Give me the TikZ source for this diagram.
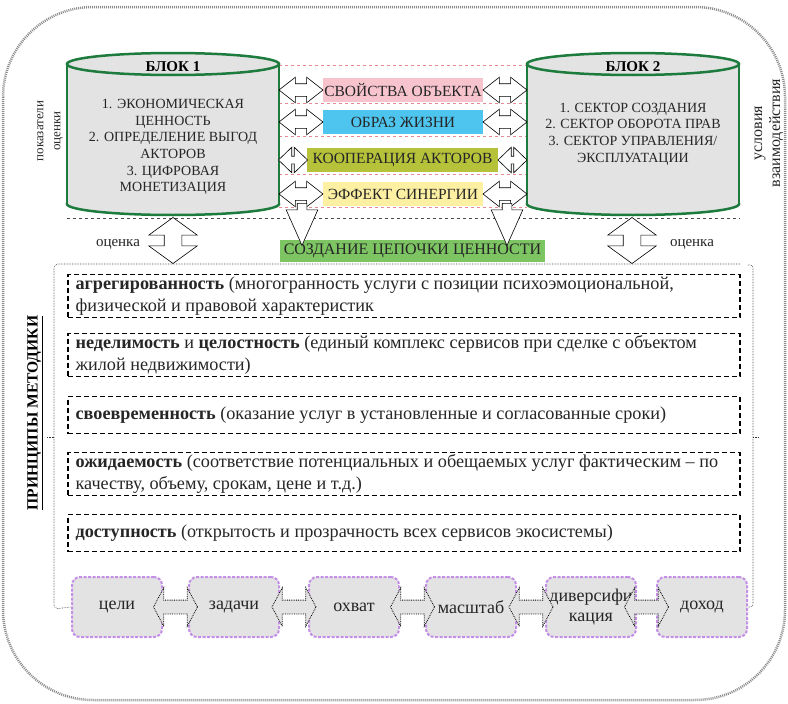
\documentclass[tikz,border=0pt]{standalone}
\usepackage{fontspec}
\setmainfont{Liberation Serif}
\usetikzlibrary{shapes.arrows,calc}
\definecolor{cylgreen}{HTML}{1E7B3E}
\definecolor{cylfill}{HTML}{E3E3E3}
\definecolor{pinkbg}{HTML}{F7C4CE}
\definecolor{bluebg}{HTML}{4DC5EF}
\definecolor{olivebg}{HTML}{B5C23A}
\definecolor{yellowbg}{HTML}{FDF0A3}
\definecolor{greenbg}{HTML}{7DC462}
\definecolor{purp}{HTML}{C48FE6}
\definecolor{boxgray}{HTML}{E3E3E3}
\definecolor{txt}{HTML}{262626}
\definecolor{pinkline}{HTML}{E58A95}
\newcommand\drawcyl[4]{%
  \draw[cylline,fill=cylfill] (#1,#4) ellipse [x radius=#2pt, y radius=11pt];
  \fill[cylfill] (#1-#2,#3) rectangle (#1+#2,#4);
  \draw[cylline] (#1-#2,#3) -- (#1-#2,#4) (#1+#2,#3) -- (#1+#2,#4);
  \draw[cylline,fill=cylfill] (#1,#3) ellipse [x radius=#2pt, y radius=11pt];
}
\tikzset{
  cylline/.style={draw=cylgreen, line width=2.5pt},
  cylarea/.style={minimum width=212pt, minimum height=162pt, inner sep=0pt},
  cyltext/.style={font=\fontsize{14}{16.6}\selectfont, text=txt, align=center, inner sep=0pt},
  cyltitle/.style={font=\fontsize{15}{17}\selectfont\bfseries, text=black, inner sep=0pt},
  lbl/.style={font=\fontsize{15.5}{17}\selectfont, text=txt, minimum height=24pt, inner sep=0pt},
  rowarrow/.style={double arrow, draw=black, fill=white, line width=0.6pt, inner xsep=0pt, inner ysep=6pt,
    minimum width=25pt, double arrow head extend=6.5pt, minimum height=44pt, double arrow tip angle=76},
  smallrowarrow/.style={rowarrow, inner ysep=3.5pt, minimum width=25pt, double arrow head extend=9pt,
    minimum height=29pt, double arrow tip angle=88},
  downarrow/.style={single arrow, draw=black, fill=white, line width=0.6pt, inner xsep=0pt, inner ysep=4.5pt,
    minimum width=31pt, single arrow head extend=11pt, minimum height=42pt, single arrow tip angle=48, rotate=-90},
  vdarrow/.style={double arrow, draw=black, fill=white, line width=0.6pt, inner xsep=0pt, inner ysep=8.5pt,
    minimum width=48pt, double arrow head extend=15.5pt, minimum height=46pt, double arrow tip angle=108, rotate=90},
  sidelabel/.style={font=\fontsize{13}{17}\selectfont, text=txt, align=center, inner sep=0pt},
  pbox/.style={draw=black, line width=1.2pt, dash pattern=on 5pt off 3pt, minimum width=672pt, inner sep=0pt},
  ptext/.style={anchor=west, align=left, inner sep=0pt, font=\fontsize{18.2}{21.5}\selectfont, text=txt},
  bbox/.style={draw=purp, line width=2pt, dash pattern=on 3pt off 1.5pt, fill=boxgray, rounded corners=8pt,
    minimum width=90pt, minimum height=60pt, inner sep=0pt, align=center, font=\fontsize{18}{20}\selectfont, text=txt},
  barrow/.style={double arrow, fill=boxgray, draw=black, densely dotted, line width=0.8pt, inner xsep=0pt, inner ysep=6.5pt,
    minimum width=38pt, double arrow head extend=12.5pt, minimum height=44pt, double arrow tip angle=124},
  outerframe/.style={draw=black!45, line width=2.5pt, dash pattern=on 1pt off 1pt, rounded corners=90pt},
  frameline/.style={draw=gray!40!black, densely dotted, line width=0.6pt},
}
\begin{document}
\begin{tikzpicture}[x=1pt,y=-1pt]
\useasboundingbox (0,0) rectangle (788,704);
% outer frame
\draw[outerframe] (3,7) rectangle (785,700);

% pink dashed guide lines
\foreach \yy in {65,103,136,174,207}
  \draw[pinkline, dashed, line width=0.5pt] (279,\yy) -- (527,\yy);
\draw[gray!60!black, dashed, line width=0.6pt] (67,218) -- (740,218);

% cylinders
\drawcyl{173}{106}{64}{204}
\drawcyl{633}{106}{64}{204}
\node[cylarea] (b1) at (173,134) {};
\node[cylarea] (b2) at (633,134) {};
\node[cyltitle] (t1) at (173,67) {БЛОК 1};
\node[cyltitle] (t2) at (633,67) {БЛОК 2};
\node[cyltext] (c1) at (173,147) {1. ЭКОНОМИЧЕСКАЯ\\ЦЕННОСТЬ\\2. ОПРЕДЕЛЕНИЕ ВЫГОД\\АКТОРОВ\\3. ЦИФРОВАЯ\\МОНЕТИЗАЦИЯ};
\node[cyltext] (c2) at (633,134) {1. СЕКТОР СОЗДАНИЯ\\2. СЕКТОР ОБОРОТА ПРАВ\\3. СЕКТОР УПРАВЛЕНИЯ/\\ЭКСПЛУАТАЦИИ};

% middle labels
\node[lbl, fill=pinkbg, minimum width=160pt] (l1) at (403,90) {СВОЙСТВА ОБЪЕКТА};
\node[lbl, fill=bluebg, minimum width=160pt] (l2) at (403,122) {ОБРАЗ ЖИЗНИ};
\node[lbl, fill=olivebg, minimum width=191pt] (l3) at (402.5,160) {КООПЕРАЦИЯ АКТОРОВ};
\node[lbl, fill=yellowbg, minimum width=160pt] (l4) at (403,194) {ЭФФЕКТ СИНЕРГИИ};

% row arrows
\foreach \l in {l1,l2,l4}{
  \node[rowarrow] at ($(b1.east|-\l)!0.5!(\l.west)$) {};
  \node[rowarrow] at ($(\l.east)!0.5!(b2.west|-\l)$) {};
}
\node[smallrowarrow] at ($(b1.east|-l3)!0.5!(l3.west)$) {};
\node[smallrowarrow] at ($(l3.east)!0.5!(b2.west|-l3)$) {};

% value chain
\node[lbl, fill=greenbg, minimum width=265pt, minimum height=22pt, font=\fontsize{16}{17}\selectfont] (g) at (412.5,251) {СОЗДАНИЕ ЦЕПОЧКИ ЦЕННОСТИ};
\node[downarrow] (d1) at (302,219) {};
\node[downarrow] (d2) at (507,219) {};

% evaluation arrows
\node[vdarrow] (v1) at (173,240.5) {};
\node[vdarrow] (v2) at (632,240.5) {};
\node[sidelabel, font=\fontsize{15}{17}\selectfont] (o1) at (118,244) {оценка};
\node[sidelabel, font=\fontsize{15}{17}\selectfont] (o2) at (692,244) {оценка};

% side labels
\node[sidelabel, rotate=90] (s1) at (50,131) {показатели\\оценки};
\node[sidelabel, rotate=90, font=\fontsize{16}{18}\selectfont] (s2) at (769,133) {условия\\взаимодействия};
\node[font=\fontsize{15.6}{17}\selectfont\bfseries, rotate=90, inner sep=0pt] (pm) at (35,413) {\underline{ПРИНЦИПЫ МЕТОДИКИ}};

% principles
\node[pbox, minimum height=43pt] (p1) at (404,296) {};
\node[pbox, minimum height=43pt] (p2) at (404,355) {};
\node[pbox, minimum height=37pt] (p3) at (404,415) {};
\node[pbox, minimum height=43pt] (p4) at (404,474) {};
\node[pbox, minimum height=37pt] (p5) at (404,533) {};
\node[ptext] (q1) at ($(p1.west)+(8,0)$) {\textbf{агрегированность} (многогранность услуги с позиции психоэмоциональной,\\физической и правовой характеристик};
\node[ptext] (q2) at ($(p2.west)+(8,0)$) {\textbf{неделимость} и \textbf{целостность} (единый комплекс сервисов при сделке с объектом\\жилой недвижимости)};
\node[ptext] (q3) at ($(p3.west)+(8,0)$) {\textbf{своевременность} (оказание услуг в установленные и согласованные сроки)};
\node[ptext] (q4) at ($(p4.west)+(8,0)$) {\textbf{ожидаемость} (соответствие потенциальных и обещаемых услуг фактическим – по\\качеству, объему, срокам, цене и т.д.)};
\node[ptext] (q5) at ($(p5.west)+(8,0)$) {\textbf{доступность} (открытость и прозрачность всех сервисов экосистемы)};

% bottom chain
\node[bbox] (k1) at (117,607) {цели};
\node[bbox] (k2) at (234,607) {задачи};
\node[bbox] (k3) at (354,607) {охват};
\node[bbox] (k4) at (471,607) {масштаб};
\node[bbox] (k5) at (591,607) {диверсифи\\кация};
\node[bbox] (k6) at (702,607) {доход};
\foreach \a/\b in {k1/k2,k2/k3,k3/k4,k4/k5,k5/k6}
  \node[barrow] at ($(\a.east)!0.5!(\b.west)$) {};

% principles frame (brace-like)
\draw[frameline, rounded corners=4pt] (740,264) -- (54,264) -- (54,609) -- (k1.west);
\draw[frameline] (54,437) -- (47,437);
\draw[frameline, rounded corners=3pt] (748,265) -- (753,265) -- (753,607) -- (k6.east);
\draw[frameline] (753,437) -- (758,437);
\end{tikzpicture}
\end{document}
